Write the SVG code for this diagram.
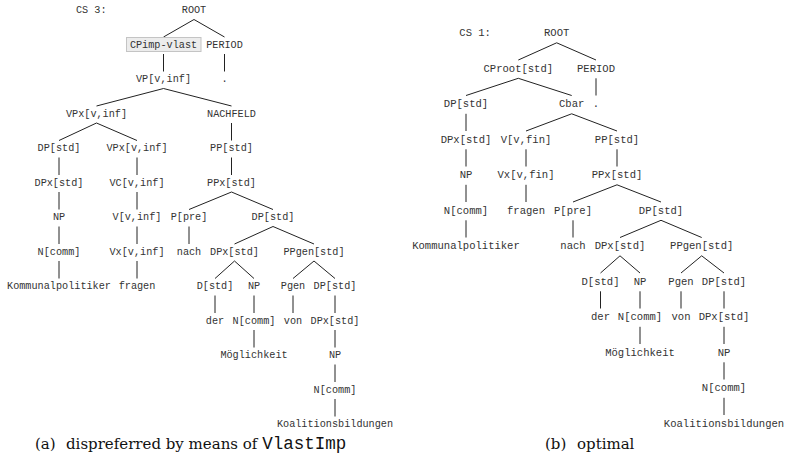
<svg xmlns="http://www.w3.org/2000/svg" width="789" height="465" viewBox="0 0 789 465">
  <style>
    .t { font-family: "Liberation Mono", "DejaVu Sans Mono", monospace; fill: #333; text-anchor: middle; }
    .l { font-size: 10.2px; }
    .r { font-size: 10.55px; }
    .lbl { text-anchor: start; }
    .edge { stroke: #222; stroke-width: 1; fill: none; }
    .hl { fill: #ececec; stroke: #c4c4c4; stroke-width: 1; }
    .cap { font-family: "DejaVu Serif", "Liberation Serif", serif; font-size: 15px; fill: #111; }
    .capmono { font-family: "Liberation Mono", monospace; font-size: 17.5px; }
  </style>
  <rect width="789" height="465" fill="#ffffff"/>

  <!-- Tree (a): CS 3 -->
  <g id="connectors-a" class="edge">
    <path d="M194 19.5L163.5 37M194 19.5L224.5 37"/>
    <path d="M163.5 54V71.5M224.5 54V71.5"/>
    <path d="M163.5 88.5L96.5 106M163.5 88.5L231.5 106"/>
    <path d="M96.5 123L59 140.5M96.5 123L137 140.5M231.5 123V140.5"/>
    <path d="M59 157.5V175M137 157.5V175M231.5 157.5V175"/>
    <path d="M59 192V209.5M137 192V209.5M231.5 192L189 209.5M231.5 192L273 209.5"/>
    <path d="M59 226.5V244M137 226.5V244M189 226.5V244M273 226.5L234.5 244M273 226.5L314 244"/>
    <path d="M59 261V278.5M137 261V278.5M234.5 261L215 278.5M234.5 261L254 278.5M314 261L293 278.5M314 261L335 278.5"/>
    <path d="M215 295.5V313M254 295.5V313M293 295.5V313M335 295.5V313"/>
    <path d="M254 330V347.5M335 330V347.5"/>
    <path d="M335 364.5V382"/>
    <path d="M335 399V416.5"/>
  </g>

  <g id="a-cs" class="t l lbl"><text x="76" y="13">CS 3:</text></g>
  <g id="a-root" class="t l"><text x="194" y="13">ROOT</text></g>
  <g id="a-cpimp">
    <rect class="hl" x="126.5" y="37.5" width="74.5" height="14"/>
    <text class="t l" x="163.5" y="47.5">CPimp-vlast</text>
  </g>
  <g id="a-period" class="t l"><text x="224.5" y="47.5">PERIOD</text></g>
  <g id="a-vp" class="t l"><text x="163.5" y="82">VP[v,inf]</text></g>
  <g id="a-dot" class="t l"><text x="224.5" y="82">.</text></g>
  <g id="a-vpx1" class="t l"><text x="96.5" y="116.5">VPx[v,inf]</text></g>
  <g id="a-nachfeld" class="t l"><text x="231.5" y="116.5">NACHFELD</text></g>
  <g id="a-dp1" class="t l"><text x="59" y="151">DP[std]</text></g>
  <g id="a-vpx2" class="t l"><text x="137" y="151">VPx[v,inf]</text></g>
  <g id="a-pp" class="t l"><text x="231.5" y="151">PP[std]</text></g>
  <g id="a-dpx1" class="t l"><text x="59" y="185.5">DPx[std]</text></g>
  <g id="a-vc" class="t l"><text x="137" y="185.5">VC[v,inf]</text></g>
  <g id="a-ppx" class="t l"><text x="231.5" y="185.5">PPx[std]</text></g>
  <g id="a-np1" class="t l"><text x="59" y="220">NP</text></g>
  <g id="a-v" class="t l"><text x="137" y="220">V[v,inf]</text></g>
  <g id="a-ppre" class="t l"><text x="189" y="220">P[pre]</text></g>
  <g id="a-dp2" class="t l"><text x="273" y="220">DP[std]</text></g>
  <g id="a-ncomm1" class="t l"><text x="59" y="254.5">N[comm]</text></g>
  <g id="a-vx" class="t l"><text x="137" y="254.5">Vx[v,inf]</text></g>
  <g id="a-nach" class="t l"><text x="189" y="254.5">nach</text></g>
  <g id="a-dpx2" class="t l"><text x="234.5" y="254.5">DPx[std]</text></g>
  <g id="a-ppgen" class="t l"><text x="314" y="254.5">PPgen[std]</text></g>
  <g id="a-kommunal" class="t l"><text x="59" y="289">Kommunalpolitiker</text></g>
  <g id="a-fragen" class="t l"><text x="137" y="289">fragen</text></g>
  <g id="a-d" class="t l"><text x="215" y="289">D[std]</text></g>
  <g id="a-np2" class="t l"><text x="254" y="289">NP</text></g>
  <g id="a-pgen" class="t l"><text x="293" y="289">Pgen</text></g>
  <g id="a-dp3" class="t l"><text x="335" y="289">DP[std]</text></g>
  <g id="a-der" class="t l"><text x="215" y="323.5">der</text></g>
  <g id="a-ncomm2" class="t l"><text x="254" y="323.5">N[comm]</text></g>
  <g id="a-von" class="t l"><text x="293" y="323.5">von</text></g>
  <g id="a-dpx3" class="t l"><text x="335" y="323.5">DPx[std]</text></g>
  <g id="a-moeglichkeit" class="t l"><text x="254" y="358">Möglichkeit</text></g>
  <g id="a-np3" class="t l"><text x="335" y="358">NP</text></g>
  <g id="a-ncomm3" class="t l"><text x="335" y="392.5">N[comm]</text></g>
  <g id="a-koalition" class="t l"><text x="335" y="427">Koalitionsbildungen</text></g>

  <!-- Tree (b): CS 1 -->
  <g id="connectors-b" class="edge">
    <path d="M556.7 42.8L518.3 60M556.7 42.8L596 60"/>
    <path d="M518.3 78.3L466 95.5M518.3 78.3L571.7 95.5M596 78.3V95.5"/>
    <path d="M466 113.8V131M571.7 113.8L526 131M571.7 113.8L617 131"/>
    <path d="M466 149.3V166.5M526 149.3V166.5M617 149.3V166.5"/>
    <path d="M466 184.8V202M526 184.8V202M617 184.8L573 202M617 184.8L661 202"/>
    <path d="M466 220.3V237.5M573 220.3V237.5M661 220.3L620 237.5M661 220.3L701.7 237.5"/>
    <path d="M620 255.8L600.5 273M620 255.8L640 273M701.7 255.8L681 273M701.7 255.8L724 273"/>
    <path d="M600.5 291.3V308.5M640 291.3V308.5M681 291.3V308.5M724 291.3V308.5"/>
    <path d="M640 326.8V344M724 326.8V344"/>
    <path d="M724 362.3V379.5"/>
    <path d="M724 397.8V415"/>
  </g>

  <g id="b-cs" class="t r lbl"><text x="459.3" y="36">CS 1:</text></g>
  <g id="b-root" class="t r"><text x="556.7" y="36">ROOT</text></g>
  <g id="b-cproot" class="t r"><text x="518.3" y="71.5">CProot[std]</text></g>
  <g id="b-period" class="t r"><text x="596" y="71.5">PERIOD</text></g>
  <g id="b-dp1" class="t r"><text x="466" y="107">DP[std]</text></g>
  <g id="b-cbar" class="t r"><text x="571.7" y="107">Cbar</text></g>
  <g id="b-dot" class="t r"><text x="596" y="107">.</text></g>
  <g id="b-dpx1" class="t r"><text x="466" y="142.5">DPx[std]</text></g>
  <g id="b-v" class="t r"><text x="526" y="142.5">V[v,fin]</text></g>
  <g id="b-pp" class="t r"><text x="617" y="142.5">PP[std]</text></g>
  <g id="b-np1" class="t r"><text x="466" y="178">NP</text></g>
  <g id="b-vx" class="t r"><text x="526" y="178">Vx[v,fin]</text></g>
  <g id="b-ppx" class="t r"><text x="617" y="178">PPx[std]</text></g>
  <g id="b-ncomm1" class="t r"><text x="466" y="213.5">N[comm]</text></g>
  <g id="b-fragen" class="t r"><text x="526" y="213.5">fragen</text></g>
  <g id="b-ppre" class="t r"><text x="573" y="213.5">P[pre]</text></g>
  <g id="b-dp2" class="t r"><text x="661" y="213.5">DP[std]</text></g>
  <g id="b-kommunal" class="t r"><text x="466" y="249">Kommunalpolitiker</text></g>
  <g id="b-nach" class="t r"><text x="573" y="249">nach</text></g>
  <g id="b-dpx2" class="t r"><text x="620" y="249">DPx[std]</text></g>
  <g id="b-ppgen" class="t r"><text x="701.7" y="249">PPgen[std]</text></g>
  <g id="b-d" class="t r"><text x="600.5" y="284.5">D[std]</text></g>
  <g id="b-np2" class="t r"><text x="640" y="284.5">NP</text></g>
  <g id="b-pgen" class="t r"><text x="681" y="284.5">Pgen</text></g>
  <g id="b-dp3" class="t r"><text x="724" y="284.5">DP[std]</text></g>
  <g id="b-der" class="t r"><text x="600.5" y="320">der</text></g>
  <g id="b-ncomm2" class="t r"><text x="640" y="320">N[comm]</text></g>
  <g id="b-von" class="t r"><text x="681" y="320">von</text></g>
  <g id="b-dpx3" class="t r"><text x="724" y="320">DPx[std]</text></g>
  <g id="b-moeglichkeit" class="t r"><text x="640" y="355.5">Möglichkeit</text></g>
  <g id="b-np3" class="t r"><text x="724" y="355.5">NP</text></g>
  <g id="b-ncomm3" class="t r"><text x="724" y="391">N[comm]</text></g>
  <g id="b-koalition" class="t r"><text x="724" y="426.5">Koalitionsbildungen</text></g>

  <!-- Sub-captions -->
  <g id="caption-a">
    <text class="cap" y="449"><tspan x="35">(a)</tspan><tspan x="66">dispreferred by means of </tspan><tspan class="capmono">VlastImp</tspan></text>
  </g>
  <g id="caption-b">
    <text class="cap" y="449"><tspan x="545">(b)</tspan><tspan x="577">optimal</tspan></text>
  </g>
</svg>
